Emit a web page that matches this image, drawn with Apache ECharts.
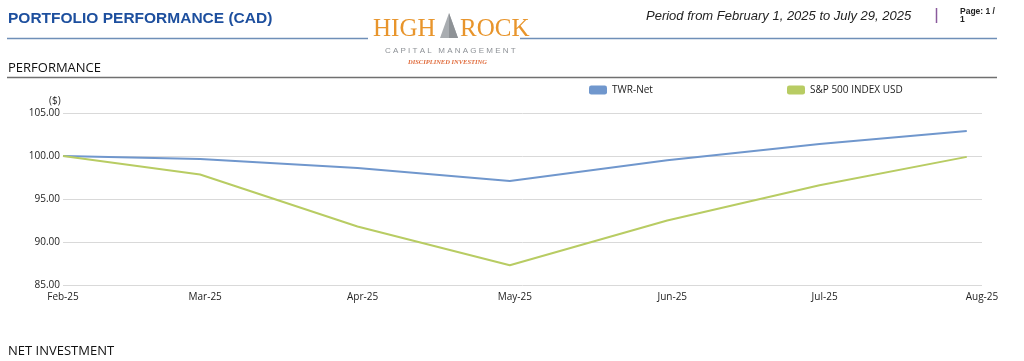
<!DOCTYPE html>
<html>
<head>
<meta charset="utf-8">
<script src="https://cdn.jsdelivr.net/npm/echarts@6/dist/echarts.min.js"></script>
<style>
html,body{margin:0;padding:0;background:#fff;}
#chart{width:1024px;height:361px;}
</style>
</head>
<body>
<div id="chart"></div>
<script>
// ---- data ----
var dates = ['2025-02-01','2025-02-28','2025-03-31','2025-04-30','2025-05-31','2025-06-30','2025-07-29'];
var twrNet = [100.00, 99.65, 98.60, 97.10, 99.50, 101.40, 102.90];
var sp500 = [100.00, 97.85, 91.80, 87.30, 92.50, 96.60, 99.90];
var seriesNames = ['TWR-Net', 'S&P 500 INDEX USD'];
var monthLabels = ['Jan','Feb','Mar','Apr','May','Jun','Jul','Aug','Sep','Oct','Nov','Dec'];
var axisStart = '2025-02-01';
var axisEnd = '2025-08-01';
var yTicks = {min: 85, max: 105, step: 5};

function pair(vals){ return dates.map(function(d,i){ return [d, vals[i]]; }); }

var chart = echarts.init(document.getElementById('chart'), null, {renderer:'canvas'});
var font = '"Open Sans", "Noto Sans", sans-serif';
var blue = '#7097cd', green = '#b8cc63';

chart.setOption({
  animation: false,
  textStyle: {fontFamily: font},
  grid: {left: 63, right: 42, top: 113, bottom: 76},
  legend: [
    {data: [seriesNames[0]], left: 584, top: 80, icon: 'roundRect', itemWidth: 18, itemHeight: 9,
     textStyle: {fontFamily: font, fontSize: 10, color: '#222'}, itemGap: 6},
    {data: [seriesNames[1]], left: 782, top: 80, icon: 'roundRect', itemWidth: 18, itemHeight: 9,
     textStyle: {fontFamily: font, fontSize: 10, color: '#222'}, itemGap: 6}
  ],
  xAxis: {
    type: 'time',
    min: axisStart, max: axisEnd,
    minInterval: 28*86400000, maxInterval: 31*86400000,
    axisLine: {show: false}, axisTick: {show: false}, splitLine: {show: false},
    axisLabel: {
      fontFamily: font, fontSize: 10, color: '#222', margin: 7, hideOverlap: false,
      showMinLabel: true, showMaxLabel: true,
      formatter: function(v){ var d = new Date(v); return monthLabels[d.getMonth()] + '-' + String(d.getFullYear()).slice(2); }
    }
  },
  yAxis: {
    type: 'value', min: yTicks.min, max: yTicks.max, interval: yTicks.step,
    axisLine: {show: false}, axisTick: {show: false},
    splitLine: {lineStyle: {color: '#d9d9d9', width: 1}},
    axisLabel: {fontFamily: font, fontSize: 10, color: '#222', margin: 3,
      formatter: function(v){ return v.toFixed(2); }}
  },
  series: [
    {name: seriesNames[0], type: 'line', data: pair(twrNet), showSymbol: false, symbol: 'none',
     lineStyle: {color: blue, width: 2}, itemStyle: {color: blue}},
    {name: seriesNames[1], type: 'line', data: pair(sp500), showSymbol: false, symbol: 'none',
     lineStyle: {color: green, width: 2}, itemStyle: {color: green}}
  ],
  graphic: [
    {type: 'text', left: 8, top: 11, style: {text: 'PORTFOLIO PERFORMANCE (CAD)', fill: '#1d4f9e',
      font: 'bold 15.5px "Liberation Sans", Arial, sans-serif'}},
    {type: 'line', shape: {x1: 7, y1: 38.5, x2: 368, y2: 38.5}, style: {stroke: '#6f8fb8', lineWidth: 1.5}},
    {type: 'line', shape: {x1: 520, y1: 38.5, x2: 997, y2: 38.5}, style: {stroke: '#6f8fb8', lineWidth: 1.5}},
    // logo
    {type: 'text', left: 373, top: 17, style: {text: 'HIGH', fill: '#e8952c',
      font: '25px "Liberation Serif", "DejaVu Serif", serif'}},
    {type: 'polygon', shape: {points: [[449,13],[440,38],[458,38]]}, style: {fill: '#a9adb1'}},
    {type: 'polygon', shape: {points: [[449,13],[449,38],[458,38]]}, style: {fill: '#8e9296'}},
    {type: 'text', left: 460, top: 17, style: {text: 'ROCK', fill: '#e8952c',
      font: '25px "Liberation Serif", "DejaVu Serif", serif'}},
    {type: 'text', left: 385, top: 47, style: {text: 'C A P I T A L   M A N A G E M E N T', fill: '#8d9196',
      font: '8px "Liberation Sans", Arial, sans-serif'}},
    {type: 'text', left: 408, top: 59, style: {text: 'DISCIPLINED INVESTING', fill: '#e06a3a',
      font: 'italic bold 6.5px "Liberation Serif", serif'}},
    // period
    {type: 'text', left: 646, top: 10, style: {text: 'Period from February 1, 2025 to July 29, 2025', fill: '#222',
      font: 'italic 13px "Liberation Sans", Arial, sans-serif'}},
    {type: 'line', shape: {x1: 936.5, y1: 8, x2: 936.5, y2: 23}, style: {stroke: '#8a5a9c', lineWidth: 1.5}},
    {type: 'text', left: 960, top: 7, style: {text: 'Page: 1 /\n1', fill: '#222', lineHeight: 8,
      font: 'bold 8.5px "Liberation Sans", Arial, sans-serif'}},
    // section header
    {type: 'text', left: 8, top: 62, style: {text: 'PERFORMANCE', fill: '#111',
      font: '13px ' + font}},
    {type: 'line', shape: {x1: 7, y1: 77.5, x2: 997, y2: 77.5}, style: {stroke: '#707070', lineWidth: 1.5}},
    {type: 'text', left: 49, top: 96, style: {text: '($)', fill: '#222', font: '10px ' + font}},
    {type: 'text', left: 8, top: 345, style: {text: 'NET INVESTMENT', fill: '#111', font: '13px ' + font}}
  ]
});
</script>
</body>
</html>
